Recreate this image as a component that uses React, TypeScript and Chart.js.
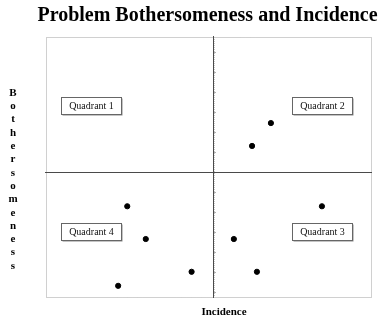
import React, { useEffect, useRef } from "react";
import { Chart, registerables } from "chart.js";

Chart.register(...registerables);

const TITLE = "Problem Bothersomeness and Incidence";
const X_TITLE = "Incidence";
const Y_TITLE = "Bothersomeness";

const incidence = [69.2, 63.4, 25.0, 30.7, 44.8, 22.2, 84.9, 57.8, 64.9];
const bothersomeness = [66.9, 58.1, 34.9, 22.3, 9.7, 4.3, 34.9, 22.3, 9.7];

const quadrantNames = ["Quadrant 1", "Quadrant 2", "Quadrant 3", "Quadrant 4"];
const quadrantLabelX = [13.7, 84.9, 84.9, 13.7];
const quadrantLabelY = [73.5, 73.5, 25.2, 25.2];

const X_MIN = 0;
const X_MAX = 100;
const Y_MIN = 0;
const Y_MAX = 100;
const X_SPLIT = 51.5;
const Y_SPLIT = 48.2;

const SERIF = "'Liberation Serif', 'DejaVu Serif', serif";

const overlayPlugin = {
  id: "overlay",
  beforeDatasetsDraw(chart: any) {
    const { ctx, chartArea, scales } = chart;
    const { left, right, top, bottom } = chartArea;
    const xs = scales.x;
    const ys = scales.y;
    ctx.save();
    // dotted frame
    ctx.strokeStyle = "#a0a0a0";
    ctx.lineWidth = 1;
    ctx.setLineDash([1, 1]);
    ctx.strokeRect(left + 0.5, top + 0.5, right - left, bottom - top);
    const sx = Math.round(xs.getPixelForValue(X_SPLIT));
    const sy = Math.round(ys.getPixelForValue(Y_SPLIT));
    ctx.strokeStyle = "#c8c8c8";
    ctx.beginPath();
    ctx.moveTo(sx + 1.5, top);
    ctx.lineTo(sx + 1.5, bottom);
    ctx.stroke();
    ctx.setLineDash([]);
    // split lines
    ctx.strokeStyle = "#4a4a4a";
    ctx.beginPath();
    ctx.moveTo(sx + 0.5, top - 1);
    ctx.lineTo(sx + 0.5, bottom + 1);
    ctx.moveTo(left - 1, sy + 0.5);
    ctx.lineTo(right + 1, sy + 0.5);
    ctx.stroke();
    // small ticks along the vertical split line
    ctx.strokeStyle = "#b0b0b0";
    const step = (Y_MAX - Y_MIN) / 13;
    const drawTick = (v: number) => {
      const py = Math.round(ys.getPixelForValue(v)) + 0.5;
      ctx.beginPath();
      ctx.moveTo(sx + 1, py);
      ctx.lineTo(sx + 3, py);
      ctx.stroke();
    };
    for (let v = Y_SPLIT + step; v < Y_MAX; v += step) drawTick(v);
    for (let v = Y_SPLIT - step; v > Y_MIN; v -= step) drawTick(v);
    // quadrant label boxes
    ctx.font = `10px ${SERIF}`;
    ctx.textAlign = "center";
    ctx.textBaseline = "middle";
    quadrantNames.forEach((name, i) => {
      const cx = xs.getPixelForValue(quadrantLabelX[i]);
      const cy = ys.getPixelForValue(quadrantLabelY[i]);
      const w = 60;
      const h = 17;
      const bx = Math.round(cx - w / 2) + 0.5;
      const by = Math.round(cy - h / 2) + 0.5;
      ctx.fillStyle = "#8a8a8a";
      ctx.fillRect(bx + 1, by + 1, w, h);
      ctx.fillStyle = "#ffffff";
      ctx.fillRect(bx, by, w, h);
      ctx.strokeStyle = "#666666";
      ctx.strokeRect(bx, by, w, h);
      ctx.fillStyle = "#111111";
      ctx.fillText(name, bx + w / 2, by + h / 2 + 0.5);
    });
    ctx.restore();
  },
  afterDraw(chart: any) {
    const { ctx, chartArea } = chart;
    const { left, right, top, bottom } = chartArea;
    ctx.save();
    ctx.fillStyle = "#000000";
    ctx.textAlign = "center";
    ctx.textBaseline = "alphabetic";
    ctx.font = `bold 20px ${SERIF}`;
    ctx.fillText(TITLE, (left + right) / 2 - 1, 21);
    ctx.font = `bold 11px ${SERIF}`;
    ctx.textBaseline = "middle";
    ctx.fillText(X_TITLE, 224, bottom + 15);
    const letters = Y_TITLE.split("");
    letters.forEach((ch, i) => {
      ctx.fillText(ch, 13, top + 56 + i * 13.3);
    });
    ctx.restore();
  },
};

export default function App() {
  const canvasRef = useRef<HTMLCanvasElement | null>(null);

  useEffect(() => {
    document.body.style.margin = "0";
    const canvas = canvasRef.current;
    if (!canvas) return;
    const chart = new Chart(canvas, {
      type: "scatter",
      data: {
        datasets: [
          {
            label: "Problems",
            data: incidence.map((x, i) => ({ x, y: bothersomeness[i] })),
            backgroundColor: "#000000",
            borderColor: "#000000",
            pointRadius: 2.6,
            pointHoverRadius: 2.6,
          },
        ],
      },
      options: {
        responsive: false,
        animation: false,
        devicePixelRatio: 1,
        layout: { padding: { left: 46, right: 17, top: 37, bottom: 29 } },
        plugins: {
          legend: { display: false },
          title: { display: false },
          tooltip: { enabled: false },
        },
        scales: {
          x: { type: "linear", min: X_MIN, max: X_MAX, display: false },
          y: { type: "linear", min: Y_MIN, max: Y_MAX, display: false },
        },
      },
      plugins: [overlayPlugin],
    });
    return () => chart.destroy();
  }, []);

  return (
    <div style={{ width: 388, height: 326 }}>
      <canvas ref={canvasRef} width={388} height={326} style={{ display: "block" }} />
    </div>
  );
}
